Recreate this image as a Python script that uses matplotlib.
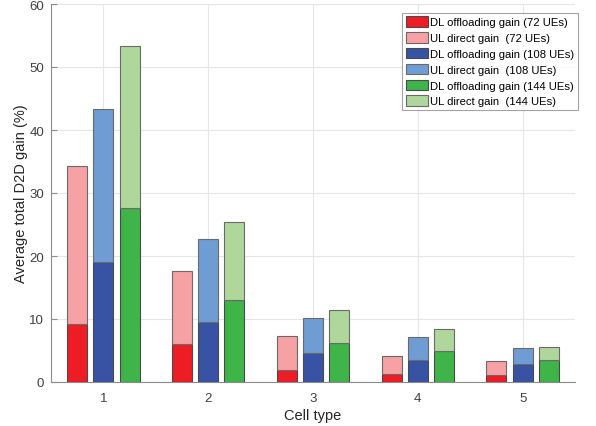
import matplotlib
matplotlib.use("Agg")
import matplotlib.pyplot as plt
import numpy as np

plt.rcParams['font.family'] = ['Liberation Sans', 'DejaVu Sans']

cells = [1, 2, 3, 4, 5]
dl_72 = [9.2, 6.0, 1.9, 1.2, 1.15]
tot_72 = [34.3, 17.6, 7.25, 4.2, 3.3]
dl_108 = [19.0, 9.5, 4.55, 3.5, 2.8]
tot_108 = [43.3, 22.7, 10.1, 7.1, 5.35]
dl_144 = [27.6, 13.0, 6.2, 4.9, 3.55]
tot_144 = [53.4, 25.4, 11.5, 8.4, 5.5]
ue_counts = ['72', '108', '144']

series = [(dl_72, tot_72, '#EE1C25', '#F6A1A3'),
          (dl_108, tot_108, '#3853A4', '#6F9CD3'),
          (dl_144, tot_144, '#3EB449', '#AFD69B')]

fig = plt.figure(figsize=(5.96, 4.27), dpi=100)
ax = fig.add_axes([51/596, 1-383/427, (575-51)/596, (383-5)/427])

x = np.array(cells, dtype=float)
offsets = [-0.25, 0.0, 0.25]
w = 0.19
handles = []
labels = []
for (dl, tot, cd, cu), off, n in zip(series, offsets, ue_counts):
    dl = np.array(dl); tot = np.array(tot)
    b1 = ax.bar(x + off, dl, w, color=cd, edgecolor='#4a4a4a', linewidth=0.8, zorder=3)
    b2 = ax.bar(x + off, tot - dl, w, bottom=dl, color=cu, edgecolor='#6a6a6a', linewidth=0.8, zorder=3)
    handles += [b1, b2]
    labels += [f'DL offloading gain ({n} UEs)', f'UL direct gain  ({n} UEs)']

ax.set_xlim(0.5, 5.5)
ax.set_ylim(0, 60)
ax.set_xticks(cells)
ax.set_yticks(range(0, 61, 10))
ax.grid(True, color='#e6e6e6', linewidth=0.8, zorder=0)
ax.set_axisbelow(True)
for s in ['top', 'right']:
    ax.spines[s].set_visible(False)
for s in ['left', 'bottom']:
    ax.spines[s].set_color('#8c8c8c')
    ax.spines[s].set_linewidth(0.8)
ax.tick_params(direction='in', length=4, colors='#8c8c8c', labelcolor='#404040', labelsize=9.5)
ax.tick_params(axis='x', pad=7)
ax.tick_params(axis='y', pad=5)
ax.set_xlabel('Cell type', fontsize=10.5, color='#262626', labelpad=3)
ax.set_ylabel('Average total D2D gain (%)', fontsize=10.5, color='#262626', labelpad=1)

leg = ax.legend(handles, labels, loc='upper right', bbox_to_anchor=(578/596, 1-14/427),
                bbox_transform=fig.transFigure, fontsize=8.1, frameon=True, fancybox=False,
                handlelength=2.0, handleheight=1.05, handletextpad=0.2, labelspacing=0.42,
                borderpad=0.3, borderaxespad=0)
leg.get_frame().set_edgecolor('#8c8c8c')
leg.get_frame().set_linewidth(0.8)

fig.savefig('out.png', dpi=100)
